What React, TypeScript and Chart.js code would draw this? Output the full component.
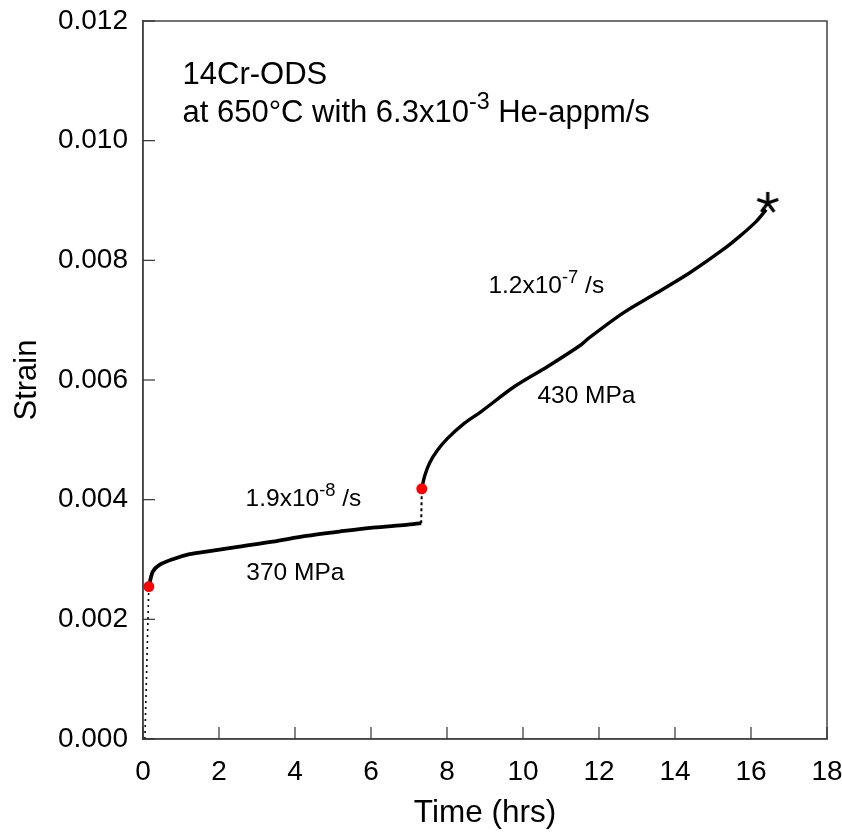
import { useEffect, useRef } from "react";
import { Chart, registerables } from "chart.js";

Chart.register(...registerables);

// ---- data (time in hrs, strain) ----
const xTickValues = [0, 2, 4, 6, 8, 10, 12, 14, 16, 18];
const yTickValues = [0, 0.002, 0.004, 0.006, 0.008, 0.01, 0.012];

const loading1Time = [0.05, 0.153];
const loading1Strain = [0.0, 0.002547];

const creep1Time = [0.153, 0.258, 0.434, 0.784, 1.224, 1.663, 2.539, 3.416, 4.295, 5.171, 6.047, 6.926, 7.321];
const creep1Strain = [0.002547, 0.002797, 0.00291, 0.003005, 0.003089, 0.003132, 0.003216, 0.003299, 0.003395, 0.003467, 0.003533, 0.003579, 0.003607];

const loading2Time = [7.321, 7.337];
const loading2Strain = [0.003607, 0.004181];

const creep2Time = [7.337, 7.408, 7.539, 7.758, 8.021, 8.461, 8.9, 9.776, 10.65, 11.53, 11.75, 12.63, 13.51, 14.38, 15.26, 15.7, 16.14, 16.4];
const creep2Strain = [0.004181, 0.004387, 0.00461, 0.004833, 0.005028, 0.005279, 0.005473, 0.005891, 0.006226, 0.006589, 0.00671, 0.007119, 0.007453, 0.007788, 0.008177, 0.0084, 0.008651, 0.008846];

const stressChangeTime = [0.153, 7.337];
const stressChangeStrain = [0.002547, 0.004181];

const ruptureTime = [16.44];
const ruptureStrain = [0.00896];

// annotations: [text, superscript?] parts
const annotations = [
  { t: 1.04, s: 0.01094, size: 31, parts: [["14Cr-ODS", false]] },
  { t: 1.04, s: 0.01032, size: 31, parts: [["at 650°C with 6.3x10", false], ["-3", true], [" He-appm/s", false]] },
  { t: 2.7, s: 0.00389, size: 24.5, parts: [["1.9x10", false], ["-8", true], [" /s", false]] },
  { t: 2.72, s: 0.00266, size: 24.5, parts: [["370 MPa", false]] },
  { t: 9.09, s: 0.00746, size: 24.5, parts: [["1.2x10", false], ["-7", true], [" /s", false]] },
  { t: 10.38, s: 0.00562, size: 24.5, parts: [["430 MPa", false]] },
];

const FONT = '"Liberation Sans", Arial, sans-serif';

const toPoints = (xs: number[], ys: number[]) => xs.map((x, i) => ({ x, y: ys[i] }));

function makeAsterisk(): HTMLCanvasElement {
  const c = document.createElement("canvas");
  c.width = 28;
  c.height = 28;
  const g = c.getContext("2d")!;
  g.strokeStyle = "#000";
  g.lineWidth = 3.2;
  g.lineCap = "butt";
  const cx = 14, cy = 14, r = 11;
  const angles = [90, 18, 162, -54, 234];
  for (const a of angles) {
    const rad = (a * Math.PI) / 180;
    g.beginPath();
    g.moveTo(cx, cy);
    g.lineTo(cx + r * Math.cos(rad), cy - r * Math.sin(rad));
    g.stroke();
  }
  return c;
}

const framePlugin = {
  id: "frame",
  afterDatasetsDraw(chart: any) {
    const { ctx, chartArea, scales } = chart;
    const { left, right, top, bottom } = chartArea;
    ctx.save();
    ctx.strokeStyle = "#444";
    ctx.lineWidth = 1.5;
    ctx.strokeRect(left, top, right - left, bottom - top);
    ctx.lineWidth = 1.2;
    ctx.strokeStyle = "#333";
    const tl = 12;
    for (const v of xTickValues) {
      const px = scales.x.getPixelForValue(v);
      ctx.beginPath();
      ctx.moveTo(px, bottom);
      ctx.lineTo(px, bottom - tl);
      ctx.stroke();
    }
    for (const v of yTickValues) {
      const py = scales.y.getPixelForValue(v);
      ctx.beginPath();
      ctx.moveTo(left, py);
      ctx.lineTo(left + tl, py);
      ctx.stroke();
    }
    ctx.restore();
  },
};

const textPlugin = {
  id: "texts",
  afterDatasetsDraw(chart: any) {
    const { ctx, scales } = chart;
    ctx.save();
    ctx.fillStyle = "#000";
    ctx.textBaseline = "alphabetic";
    ctx.textAlign = "left";
    for (const a of annotations) {
      let px = scales.x.getPixelForValue(a.t);
      const py = scales.y.getPixelForValue(a.s);
      for (const [txt, sup] of a.parts as [string, boolean][]) {
        const size = sup ? a.size * 0.75 : a.size;
        ctx.font = `${size}px ${FONT}`;
        ctx.fillText(txt, px, sup ? py - a.size * 0.4 : py);
        px += ctx.measureText(txt).width;
      }
    }
    ctx.restore();
  },
};

export default function App() {
  const ref = useRef<HTMLCanvasElement | null>(null);

  useEffect(() => {
    document.body.style.margin = "0";
    const canvas = ref.current!;
    const asterisk = makeAsterisk();
    const chart = new Chart(canvas, {
      type: "scatter",
      data: {
        datasets: [
          {
            label: "stress change",
            data: toPoints(stressChangeTime, stressChangeStrain),
            pointRadius: 5.5,
            pointBackgroundColor: "#ff0000",
            pointBorderWidth: 0,
            showLine: false,
          },
          {
            label: "rupture",
            data: toPoints(ruptureTime, ruptureStrain),
            pointStyle: asterisk as any,
            pointRadius: 14,
            showLine: false,
          },
          {
            label: "loading1",
            data: toPoints(loading1Time, loading1Strain),
            showLine: true,
            borderColor: "#000",
            borderWidth: 1.6,
            borderDash: [2, 4],
            pointRadius: 0,
          },
          {
            label: "creep1",
            data: toPoints(creep1Time, creep1Strain),
            showLine: true,
            borderColor: "#000",
            borderWidth: 3.8,
            tension: 0.3,
            pointRadius: 0,
          },
          {
            label: "loading2",
            data: toPoints(loading2Time, loading2Strain),
            showLine: true,
            borderColor: "#000",
            borderWidth: 2,
            borderDash: [3, 3],
            pointRadius: 0,
          },
          {
            label: "creep2",
            data: toPoints(creep2Time, creep2Strain),
            showLine: true,
            borderColor: "#000",
            borderWidth: 3.4,
            tension: 0.3,
            pointRadius: 0,
          },
        ],
      },
      options: {
        animation: false,
        responsive: false,
        devicePixelRatio: 1,
        layout: { padding: { top: 21, right: 15, left: 0, bottom: 0 } },
        plugins: {
          legend: { display: false },
          tooltip: { enabled: false },
        },
        scales: {
          x: {
            type: "linear",
            min: 0,
            max: 18,
            afterFit: (s: any) => {
              s.height = 96;
              s.paddingLeft = 0;
              s.paddingRight = 0;
            },
            afterBuildTicks: (s: any) => {
              s.ticks = xTickValues.map((v) => ({ value: v }));
            },
            grid: { drawOnChartArea: false, drawTicks: false },
            border: { display: true, color: "#444", width: 1.5 },
            ticks: {
              padding: 16,
              color: "#000",
              font: { family: FONT, size: 28 },
              callback: (v: any) => String(v),
            },
            title: {
              display: true,
              text: "Time (hrs)",
              color: "#000",
              font: { family: FONT, size: 31.5 },
              padding: 3,
            },
          },
          y: {
            type: "linear",
            min: 0,
            max: 0.012,
            afterFit: (s: any) => {
              s.width = 143;
              s.paddingTop = 0;
              s.paddingBottom = 0;
            },
            afterBuildTicks: (s: any) => {
              s.ticks = yTickValues.map((v) => ({ value: v }));
            },
            grid: { drawOnChartArea: false, drawTicks: false },
            border: { display: true, color: "#444", width: 1.5 },
            ticks: {
              padding: 15,
              color: "#000",
              font: { family: FONT, size: 28 },
              callback: (v: any) => Number(v).toFixed(3),
            },
            title: {
              display: true,
              text: "Strain",
              color: "#000",
              font: { family: FONT, size: 31 },
              padding: 9,
            },
          },
        },
      },
      plugins: [framePlugin, textPlugin],
    });
    return () => chart.destroy();
  }, []);

  return <canvas ref={ref} width={842} height={835} style={{ display: "block" }} />;
}
